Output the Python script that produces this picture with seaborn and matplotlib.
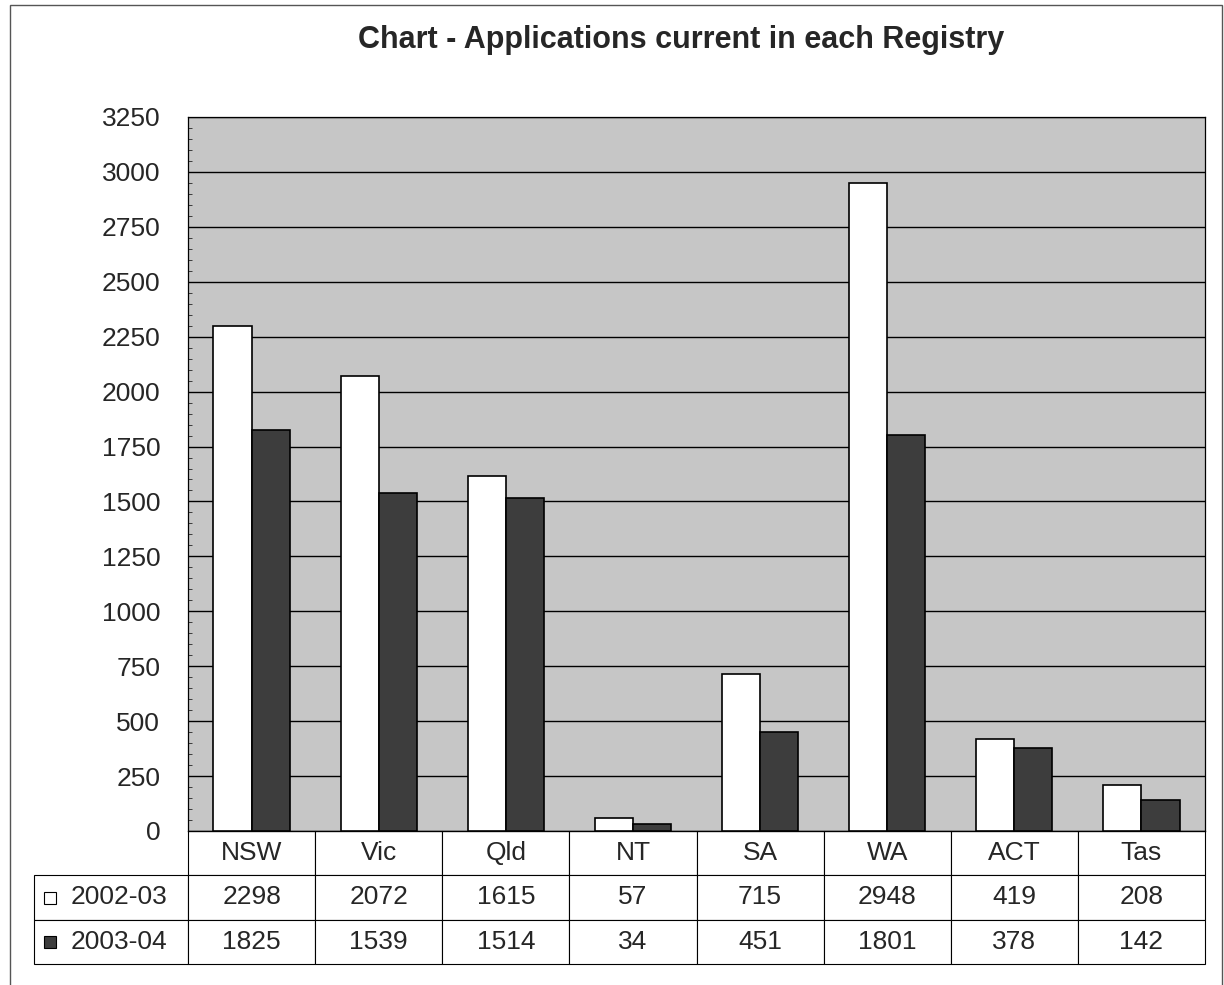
import matplotlib
matplotlib.use('Agg')
import pandas as pd
import matplotlib.pyplot as plt
import seaborn as sns
from matplotlib.patches import Rectangle
from matplotlib.ticker import MultipleLocator

registries = ['NSW', 'Vic', 'Qld', 'NT', 'SA', 'WA', 'ACT', 'Tas']
years = ['2002-03', '2003-04']
apps_0203 = [2298, 2072, 1615, 57, 715, 2948, 419, 208]
apps_0304 = [1825, 1539, 1514, 34, 451, 1801, 378, 142]
bar_colors = ['white', '#3d3d3d']

df = pd.DataFrame({
    'registry': registries * 2,
    'year': [years[0]] * len(registries) + [years[1]] * len(registries),
    'apps': apps_0203 + apps_0304,
})

sns.set_style('white')
plt.rcParams['font.family'] = ['Liberation Sans', 'DejaVu Sans']

W, H = 1224, 985
fig = plt.figure(figsize=(12.24, 9.85), dpi=100)
left, right, top, bottom = 188, 1205, 117, 831
ax = fig.add_axes([left / W, 1 - bottom / H, (right - left) / W, (bottom - top) / H])
ax.set_facecolor('#c6c6c6')

sns.barplot(data=df, x='registry', y='apps', hue='year', palette=bar_colors,
            edgecolor='black', linewidth=1.2, width=0.6, saturation=1,
            ax=ax, legend=False, zorder=3)

ax.set_ylim(0, 3250)
ax.set_xlim(-0.5, len(registries) - 0.5)
ax.yaxis.set_major_locator(MultipleLocator(250))
ax.yaxis.set_minor_locator(MultipleLocator(50))
ax.grid(axis='y', which='major', color='black', linewidth=1.0, zorder=1)
ax.set_axisbelow(True)
ax.tick_params(axis='y', which='major', labelsize=19, length=6, direction='out', pad=14)
ax.tick_params(axis='y', which='minor', length=3, direction='in', left=True)
ax.tick_params(axis='x', bottom=False, labelbottom=False)
ax.set_xlabel('')
ax.set_ylabel('')
for s in ax.spines.values():
    s.set_color('black')
    s.set_linewidth(0.9)

# data table under the plot
cell_text = [[years[0]] + [str(v) for v in apps_0203],
             [years[1]] + [str(v) for v in apps_0304]]
tab_left, tab_bottom = 34, 964
pw = right - left
ph = bottom - top
lab_w = left - tab_left
col_w = [lab_w] + [pw / len(registries)] * len(registries)
tbl = ax.table(cellText=cell_text, colLabels=[''] + registries, colWidths=col_w,
               cellLoc='center',
               bbox=[(tab_left - left) / pw, -(tab_bottom - bottom) / ph,
                     (right - tab_left) / pw, (tab_bottom - bottom) / ph])
tbl.auto_set_font_size(False)
tbl.set_fontsize(19)
for (r, c), cell in tbl.get_celld().items():
    cell.set_edgecolor('black')
    cell.set_linewidth(0.8)
    cell.set_facecolor('white')
    if r == 0 and c == 0:
        cell.set_visible(False)
    if c == 0 and r > 0:
        cell._loc = 'left'
        cell.get_text().set_ha('left')
        cell.PAD = 0.235

# legend keys in the row label cells
row_h = (tab_bottom - bottom) / 3
for i, col in enumerate(bar_colors):
    cy = bottom + row_h * (i + 1.5)
    fig.patches.append(Rectangle((44 / W, 1 - (cy + 6) / H), 12 / W, 12 / H,
                                 transform=fig.transFigure, facecolor=col,
                                 edgecolor='black', linewidth=0.8))

fig.text(681 / W, 1 - 40 / H, 'Chart - Applications current in each Registry',
         ha='center', va='center', fontsize=22, fontweight='bold')

# outer chart border
fig.patches.append(Rectangle((10 / W, -0.01), 1212 / W, 1.01 - 5 / H,
                             transform=fig.transFigure, fill=False,
                             edgecolor='#555555', linewidth=1))

fig.savefig('out.png', dpi=100)
